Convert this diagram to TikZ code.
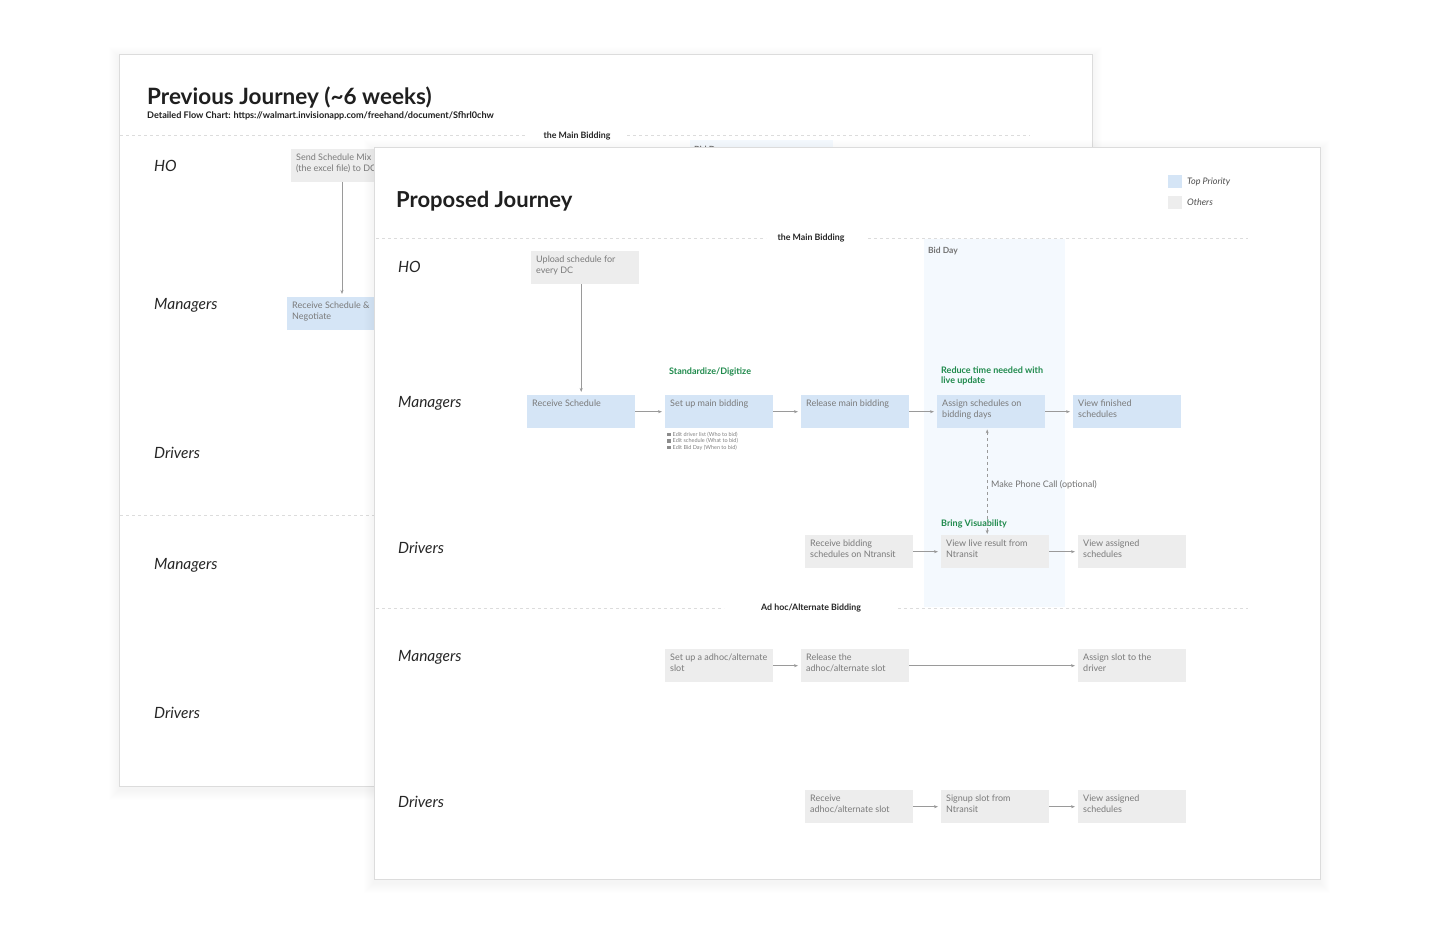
\documentclass[tikz,border=0pt]{standalone}
\usepackage{fontspec}
\setmainfont{Lato}
\usetikzlibrary{arrows.meta}
\definecolor{bluebox}{HTML}{D5E5F6}
\definecolor{graybox}{HTML}{EDEDED}
\definecolor{boxtext}{HTML}{7A7A7A}
\definecolor{greenlab}{HTML}{1F8A4C}
\definecolor{arrowc}{HTML}{9A9A9A}
\definecolor{bidday}{HTML}{F4F9FE}
\definecolor{cardline}{HTML}{DCDCDC}
\tikzset{
  pbox/.style={fill=bluebox, draw=none, minimum width=108pt, minimum height=33pt, inner sep=0pt, anchor=north west},
  gbox/.style={pbox, fill=graybox},
  btxt/.style={anchor=north west, font=\fontsize{9}{11}\selectfont, text=boxtext, align=left, inner sep=0pt, xshift=5pt, yshift=-5pt},
  lane/.style={anchor=west, font=\fontsize{15.5}{17}\selectfont\itshape, text=black!85, inner sep=0pt},
  arr/.style={draw=arrowc, line width=0.6pt, -{Stealth[length=4pt,width=3pt]}, shorten >=3pt},
  greenlbl/.style={font=\bfseries\fontsize{9}{10.5}\selectfont, text=greenlab, inner sep=0pt, align=left},
  sepline/.style={draw=cardline, dash pattern=on 3pt off 3pt, line width=0.6pt},
  sect/.style={font=\bfseries\fontsize{8.8}{10}\selectfont, text=black!85, inner sep=0pt},
  note/.style={anchor=west, font=\fontsize{5.5}{6.5}\selectfont, text=black!50, inner sep=0pt},
  noteicon/.style={fill=black!45, minimum size=3.5pt, inner sep=0pt, anchor=west},
  card/.style={fill=white, draw=cardline, line width=0.5pt},
  legtxt/.style={anchor=west, font=\itshape\fontsize{9}{10}\selectfont, text=black!70, inner sep=0pt},
  daytxt/.style={anchor=west, font=\bfseries\fontsize{8.5}{10}\selectfont, text=black!55, inner sep=0pt},
}
\newcommand{\cardshadow}[4]{%
  \foreach \i in {1,...,10} {
    \fill[black, opacity=0.005] (#1-\i, #2-\i+3) rectangle (#3+\i, #4+\i+4);
  }%
}
\begin{document}
\begin{tikzpicture}[x=1pt, y=-1pt]
\useasboundingbox (0,0) rectangle (1440,933);
\fill[white] (0,0) rectangle (1440,933);

% ---------------- back card ----------------
\cardshadow{119}{54}{1092}{786}
\draw[card] (119,54) rectangle (1092,786);
\fill[bidday] (690,140) rectangle (833,520);
\node[daytxt] (bdback) at (694,150) {Bid Day};
\node[anchor=west, font=\bfseries\fontsize{22.5}{25}\selectfont, text=black!88, inner sep=0pt] (ptitle) at (147,97.5) {Previous Journey (\textasciitilde6 weeks)};
\node[anchor=west, font=\bfseries\fontsize{9.1}{10}\selectfont, text=black!88, inner sep=0pt] (psub) at (147,115.5) {Detailed Flow Chart: https://walmart.invisionapp.com/freehand/document/Sfhrl0chw};
\node[sect] (pmain) at (577,136.5) {the Main Bidding};
\draw[sepline] (120,135) -- (527,135);
\draw[sepline] (627,135) -- (1030,135);
\draw[sepline] (120,515) -- (374,515);
\node[lane] (pho) at (154,165.5) {HO};
\node[lane] (pm1) at (154,305.5) {Managers};
\node[lane] (pd1) at (154,452.5) {Drivers};
\node[lane] (pm2) at (154,565.5) {Managers};
\node[lane] (pd2) at (154,712.5) {Drivers};
\node[gbox] (psend) at (291,149) {};
\node[btxt] (psend-t) at (psend.north west) {Send Schedule Mix\\(the excel file) to DC};
\node[pbox] (precv) at (287,297) {};
\node[btxt] (precv-t) at (precv.north west) {Receive Schedule \&\\Negotiate};
\draw[arr] (342,182) -- (342,297);

% ---------------- front card ----------------
\cardshadow{374}{147}{1320}{879}
\draw[card] (374,147) rectangle (1320,879);
\fill[bidday] (924,239) rectangle (1065,607);
\node[daytxt] (bidday) at (928,251.5) {Bid Day};

\node[anchor=west, font=\bfseries\fontsize{22}{25}\selectfont, text=black!88, inner sep=0pt] (title) at (396,201.5) {Proposed Journey};

% legend
\fill[bluebox] (1168,175) rectangle (1182,188);
\fill[graybox] (1168,196) rectangle (1182,209);
\node[legtxt] (legtop) at (1187,181.5) {Top Priority};
\node[legtxt] (legoth) at (1187,202.5) {Others};

% sections
\node[sect] (smain) at (811,238.5) {the Main Bidding};
\draw[sepline] (376,238) -- (766,238);
\draw[sepline] (868,238) -- (1248,238);
\node[sect] (sadhoc) at (811,608.5) {Ad hoc/Alternate Bidding};
\draw[sepline] (376,608) -- (724,608);
\draw[sepline] (898,608) -- (1248,608);

% lanes
\node[lane] (lho) at (398,266.5) {HO};
\node[lane] (lm1) at (398,403.5) {Managers};
\node[lane] (ld1) at (398,547.5) {Drivers};
\node[lane] (lm2) at (398,657.5) {Managers};
\node[lane] (ld2) at (398,801.5) {Drivers};

% boxes main bidding
\node[gbox] (up) at (531,251) {};
\node[btxt] (up-t) at (up.north west) {Upload schedule for\\every DC};
\node[pbox] (rs) at (527,395) {};
\node[btxt] (rs-t) at (rs.north west) {Receive Schedule};
\node[pbox] (sm) at (665,395) {};
\node[btxt] (sm-t) at (sm.north west) {Set up main bidding};
\node[pbox] (rm) at (801,395) {};
\node[btxt] (rm-t) at (rm.north west) {Release main bidding};
\node[pbox] (ad) at (937,395) {};
\node[btxt] (ad-t) at (ad.north west) {Assign schedules on\\bidding days};
\node[pbox] (vf) at (1073,395) {};
\node[btxt] (vf-t) at (vf.north west) {View finished\\schedules};

\node[gbox] (rb) at (805,535) {};
\node[btxt] (rb-t) at (rb.north west) {Receive bidding\\schedules on Ntransit};
\node[gbox] (vl) at (941,535) {};
\node[btxt] (vl-t) at (vl.north west) {View live result from\\Ntransit};
\node[gbox] (va) at (1078,535) {};
\node[btxt] (va-t) at (va.north west) {View assigned\\schedules};

% boxes ad hoc
\node[gbox] (sa) at (665,649) {};
\node[btxt] (sa-t) at (sa.north west) {Set up a adhoc/alternate\\slot};
\node[gbox] (ra) at (801,649) {};
\node[btxt] (ra-t) at (ra.north west) {Release the\\adhoc/alternate slot};
\node[gbox] (as) at (1078,649) {};
\node[btxt] (as-t) at (as.north west) {Assign slot to the\\driver};

\node[gbox] (rx) at (805,790) {};
\node[btxt] (rx-t) at (rx.north west) {Receive\\adhoc/alternate slot};
\node[gbox] (su) at (941,790) {};
\node[btxt] (su-t) at (su.north west) {Signup slot from\\Ntransit};
\node[gbox] (vb) at (1078,790) {};
\node[btxt] (vb-t) at (vb.north west) {View assigned\\schedules};

% green labels
\node[greenlbl, anchor=west] (g1) at (669,371.5) {Standardize/Digitize};
\node[greenlbl, anchor=north west] (g2) at (941,366.5) {Reduce time needed with\\live update};
\node[greenlbl, anchor=west] (g3) at (941,523.5) {Bring Visuability};

% notes
\node[noteicon] (n1i) at (667,434.5) {};
\node[note] (n1) at (672.5,434.5) {Edit driver list (Who to bid)};
\node[noteicon] (n2i) at (667,441) {};
\node[note] (n2) at (672.5,441) {Edit schedule (What to bid)};
\node[noteicon] (n3i) at (667,447.5) {};
\node[note] (n3) at (672.5,447.5) {Edit Bid Day (When to bid)};

% arrows
\draw[arr] (rs.north |- up.south) -- (rs.north);
\draw[arr] (rs.east) -- (sm.west);
\draw[arr] (sm.east) -- (rm.west);
\draw[arr] (rm.east) -- (ad.west);
\draw[arr] (ad.east) -- (vf.west);
\draw[arr] (rb.east) -- (vl.west);
\draw[arr] (vl.east) -- (va.west);
\draw[arr, dashed, {Stealth[length=4pt,width=3pt]}-{Stealth[length=4pt,width=3pt]}, shorten <=1pt, shorten >=1pt] ([xshift=-4pt]ad.south) -- ([xshift=-4pt]ad.south |- vl.north);
\node[anchor=west, font=\fontsize{9}{10}\selectfont, text=black!55, inner sep=0pt] (phone) at (991,485) {Make Phone Call (optional)};
\draw[arr] (sa.east) -- (ra.west);
\draw[arr] (ra.east) -- (as.west);
\draw[arr] (rx.east) -- (su.west);
\draw[arr] (su.east) -- (vb.west);
\end{tikzpicture}
\end{document}
